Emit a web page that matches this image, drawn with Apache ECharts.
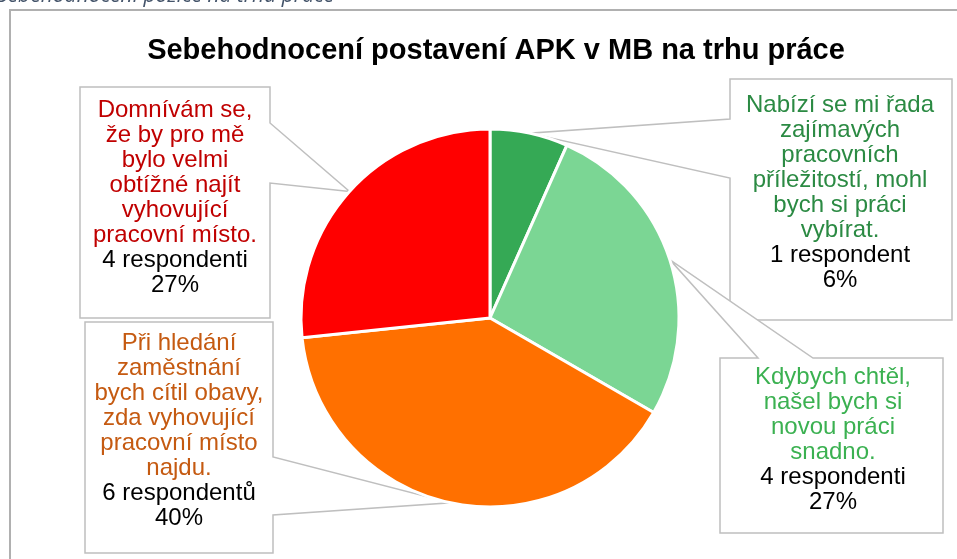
<!DOCTYPE html>
<html>
<head>
<meta charset="utf-8">
<script src="https://cdn.jsdelivr.net/npm/echarts@6/dist/echarts.min.js"></script>
<style>
    html, body {margin: 0; padding: 0; background: #fff;}
    #chart {width: 957px; height: 559px;}
</style>
</head>
<body>
<div id="chart"></div>
<script>
    // data
    const categories = [
        'Nabízí se mi řada\nzajímavých\npracovních\npříležitostí, mohl\nbych si práci\nvybírat.',
        'Kdybych chtěl,\nnašel bych si\nnovou práci\nsnadno.',
        'Při hledání\nzaměstnání\nbych cítil obavy,\nzda vyhovující\npracovní místo\nnajdu.',
        'Domnívám se,\nže by pro mě\nbylo velmi\nobtížné najít\nvyhovující\npracovní místo.'
    ];
    const counts = [1, 4, 6, 4];
    const countLabels = ['1 respondent', '4 respondenti', '6 respondentů', '4 respondenti'];
    const percentLabels = ['6%', '27%', '40%', '27%'];

    const sliceColors = ['#35a955', '#7bd694', '#ff7000', '#ff0000'];
    const textColors = ['#2b8a43', '#3bb151', '#c55a11', '#c00000'];

    // callout boxes (layout only): box rect, side with the pointer, pointer base offsets
    const boxes = [
        {x: 730, y: 79, w: 222, h: 241, side: 'left', a: 40, b: 99, tx: 840, ty: 193},
        {x: 720, y: 358, w: 223, h: 175, side: 'top', a: 38, b: 93, tx: 833, ty: 440},
        {x: 85, y: 322, w: 188, h: 231, side: 'right', a: 135, b: 193, tx: 179, ty: 431},
        {x: 80, y: 87, w: 190, h: 231, side: 'right', a: 36, b: 96, tx: 175, ty: 198}
    ];

    const chart = echarts.init(document.getElementById('chart'));

    const rich = {};
    textColors.forEach((c, i) => {
        rich['t' + i] = {color: c, fontSize: 24, lineHeight: 25, fontFamily: 'Liberation Sans', align: 'center'};
    });
    rich.n = {color: '#000', fontSize: 24, lineHeight: 25, fontFamily: 'Liberation Sans', align: 'center'};

    const option = {
        animation: false,
        title: {
            text: 'Sebehodnocení postavení APK v MB na trhu práce',
            left: 491,
            top: 31,
            textAlign: 'center',
            textStyle: {fontSize: 29, fontWeight: 'bold', color: '#000', fontFamily: 'Liberation Sans'}
        },
        series: [{
            type: 'pie',
            z: 2,
            center: [490, 318],
            radius: 189,
            startAngle: 90,
            clockwise: true,
            itemStyle: {borderColor: '#fff', borderWidth: 3},
            label: {
                show: true,
                formatter: (p) => '{t' + p.dataIndex + '|' + categories[p.dataIndex] + '}\n{n|' +
                    countLabels[p.dataIndex] + '}\n{n|' + percentLabels[p.dataIndex] + '}',
                rich: rich
            },
            labelLine: {show: false},
            labelLayout: (p) => ({
                x: boxes[p.dataIndex].tx,
                y: boxes[p.dataIndex].ty,
                align: 'center',
                verticalAlign: 'middle'
            }),
            data: counts.map((v, i) => ({
                value: v,
                name: countLabels[i],
                itemStyle: {color: sliceColors[i]}
            }))
        }]
    };
    chart.setOption(option);

    // callout shapes: pointer tip on the middle of each slice's arc
    const sliceData = chart.getModel().getSeriesByIndex(0).getData();
    const callouts = boxes.map((bx, i) => {
        const l = sliceData.getItemLayout(i);
        const mid = (l.startAngle + l.endAngle) / 2;
        const tip = [l.cx + l.r * Math.cos(mid), l.cy + l.r * Math.sin(mid)];
        const x0 = bx.x, y0 = bx.y, x1 = bx.x + bx.w, y1 = bx.y + bx.h;
        let pts;
        if (bx.side === 'top') {
            pts = [[x0, y0], [x0 + bx.a, y0], tip, [x0 + bx.b, y0], [x1, y0], [x1, y1], [x0, y1]];
        } else if (bx.side === 'right') {
            pts = [[x0, y0], [x1, y0], [x1, y0 + bx.a], tip, [x1, y0 + bx.b], [x1, y1], [x0, y1]];
        } else {
            pts = [[x0, y0], [x1, y0], [x1, y1], [x0, y1], [x0, y0 + bx.b], tip, [x0, y0 + bx.a]];
        }
        return {
            type: 'polygon',
            z: 1,
            shape: {points: pts},
            style: {fill: '#fff', stroke: '#bfbfbf', lineWidth: 1.5}
        };
    });

    chart.setOption({
        graphic: [
            {
                type: 'text',
                z: 0,
                left: -3,
                top: -14,
                style: {text: 'Sebehodnocení pozice na trhu práce', fontSize: 21, fontStyle: 'italic',
                    fill: '#44546a', fontFamily: 'Open Sans'}
            },
            {
                type: 'rect',
                z: 0,
                shape: {x: 10, y: 10, width: 980, height: 600},
                style: {fill: 'none', stroke: '#b0b0b0', lineWidth: 2}
            }
        ].concat(callouts)
    });
</script>
</body>
</html>
